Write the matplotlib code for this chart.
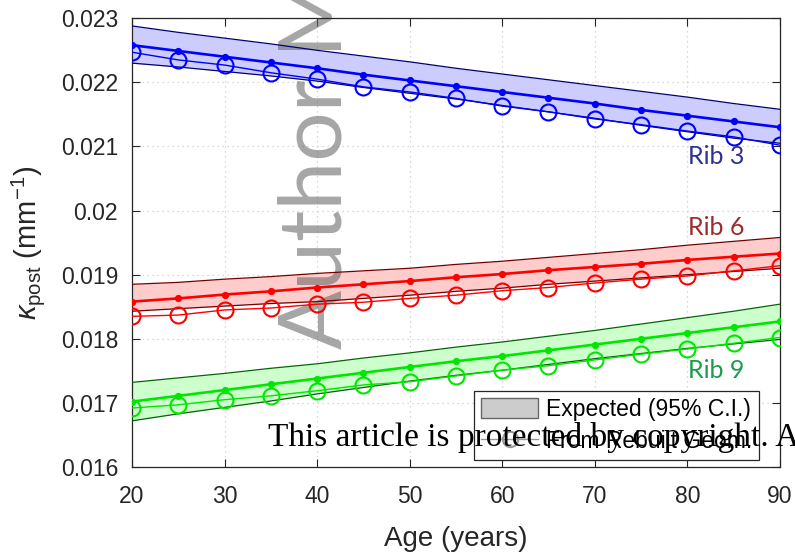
import matplotlib
matplotlib.use("Agg")
import matplotlib.pyplot as plt
from matplotlib.patches import Patch
from matplotlib.lines import Line2D

plt.rcParams['font.family'] = ['Liberation Sans', 'DejaVu Sans']
plt.rcParams['mathtext.fontset'] = 'custom'
plt.rcParams['mathtext.rm'] = 'Liberation Sans'
plt.rcParams['mathtext.it'] = 'Liberation Sans:italic'

# ---- data -------------------------------------------------------------
ages = [20, 25, 30, 35, 40, 45, 50, 55, 60, 65, 70, 75, 80, 85, 90]

rib3_mean = [0.02258, 0.02249, 0.02240, 0.02231, 0.02222, 0.02212, 0.02203, 0.02194,
             0.02185, 0.02176, 0.02167, 0.02157, 0.02148, 0.02139, 0.02130]
rib3_upper = [0.02288, 0.02278, 0.02269, 0.02260, 0.02250, 0.02241, 0.02232, 0.02222,
              0.02213, 0.02204, 0.02195, 0.02186, 0.02177, 0.02167, 0.02158]
rib3_lower = [0.02230, 0.02224, 0.02217, 0.02210, 0.02202, 0.02192, 0.02183, 0.02174,
              0.02164, 0.02154, 0.02144, 0.02133, 0.02123, 0.02113, 0.02105]
rib3_geom = [0.02247, 0.02235, 0.02227, 0.02215, 0.02205, 0.02193, 0.02185, 0.02175,
             0.02163, 0.02154, 0.02143, 0.02134, 0.02124, 0.02115, 0.02102]

rib6_mean = [0.01858, 0.01863, 0.01869, 0.01874, 0.01880, 0.01885, 0.01890, 0.01896,
             0.01901, 0.01907, 0.01912, 0.01917, 0.01923, 0.01928, 0.01933]
rib6_upper = [0.01885, 0.01888, 0.01893, 0.01897, 0.01902, 0.01906, 0.01910, 0.01916,
              0.01921, 0.01927, 0.01933, 0.01939, 0.01946, 0.01952, 0.01958]
rib6_lower = [0.01843, 0.01847, 0.01851, 0.01855, 0.01858, 0.01863, 0.01868, 0.01874,
              0.01879, 0.01885, 0.01890, 0.01895, 0.01900, 0.01905, 0.01910]
rib6_geom = [0.01835, 0.01837, 0.01845, 0.01848, 0.01854, 0.01857, 0.01863, 0.01868,
             0.01875, 0.01880, 0.01887, 0.01893, 0.01898, 0.01906, 0.01914]

rib9_mean = [0.01702, 0.01711, 0.01720, 0.01729, 0.01738, 0.01747, 0.01756, 0.01765,
             0.01773, 0.01782, 0.01791, 0.01800, 0.01809, 0.01818, 0.01827]
rib9_upper = [0.01732, 0.01739, 0.01746, 0.01754, 0.01761, 0.01770, 0.01778, 0.01787,
              0.01795, 0.01804, 0.01813, 0.01823, 0.01833, 0.01843, 0.01854]
rib9_lower = [0.01672, 0.01683, 0.01693, 0.01703, 0.01714, 0.01724, 0.01734, 0.01743,
              0.01751, 0.01760, 0.01769, 0.01777, 0.01785, 0.01792, 0.01799]
rib9_geom = [0.01692, 0.01697, 0.01705, 0.01711, 0.01719, 0.01728, 0.01733, 0.01742,
             0.01751, 0.01758, 0.01767, 0.01776, 0.01784, 0.01793, 0.01802]

rib_names = ["Rib 3", "Rib 6", "Rib 9"]
rib_label_y = [0.02084, 0.01973, 0.01750]

x_ticks = [20, 30, 40, 50, 60, 70, 80, 90]
y_ticks = [0.016, 0.017, 0.018, 0.019, 0.020, 0.021, 0.022, 0.023]
y_tick_labels = ["0.016", "0.017", "0.018", "0.019", "0.02", "0.021", "0.022", "0.023"]

# ---- styling ----------------------------------------------------------
line_colors = [(0, 0, 1), (1, 0, 0), (0, 0.9, 0)]
edge_colors = [(0, 0, 0.45), (0.45, 0, 0), (0, 0.4, 0)]
fill_colors = [(0.8, 0.8, 1), (1, 0.8, 0.8), (0.8, 1, 0.8)]
text_colors = ["#2e3192", "#9b2c2c", "#1a9c4a"]
axis_grey = (0.15, 0.15, 0.15)

fig = plt.figure(figsize=(7.95, 5.53), dpi=100)
ax = fig.add_axes([0.166, 0.1555, 0.815, 0.8115])

series = [
    (rib3_mean, rib3_upper, rib3_lower, rib3_geom),
    (rib6_mean, rib6_upper, rib6_lower, rib6_geom),
    (rib9_mean, rib9_upper, rib9_lower, rib9_geom),
]

for i, (mean, upper, lower, geom) in enumerate(series):
    ax.fill_between(ages, lower, upper, color=fill_colors[i], lw=0, zorder=1)
    ax.plot(ages, upper, color=edge_colors[i], lw=0.9, zorder=3)
    ax.plot(ages, lower, color=edge_colors[i], lw=0.9, zorder=3)
    ax.plot(ages, geom, color=line_colors[i], lw=1.0, marker='o', ms=11.5,
            mfc='none', mec=line_colors[i], mew=1.5, zorder=4)
    ax.plot(ages, mean, color=line_colors[i], lw=1.9, marker='o', ms=4.2,
            mfc=line_colors[i], mec=line_colors[i], zorder=5)
    ax.text(80.1, rib_label_y[i], rib_names[i], color=text_colors[i],
            fontsize=18, family=['Lato', 'DejaVu Sans'], ha='left', va='center',
            zorder=6)

ax.set_xlim(20, 90)
ax.set_ylim(0.016, 0.023)
ax.set_xticks(x_ticks)
ax.set_yticks(y_ticks)
ax.set_yticklabels(y_tick_labels)
ax.tick_params(direction='in', length=6, width=0.8, colors=axis_grey,
               labelsize=16.5, top=True, right=True)
ax.tick_params(axis='x', pad=13)
ax.tick_params(axis='y', pad=10)
for s in ax.spines.values():
    s.set_color(axis_grey)
    s.set_linewidth(0.9)
ax.grid(True, linestyle=(0, (1, 3)), color=(0.8, 0.8, 0.8), lw=0.9, zorder=0)
ax.set_axisbelow(True)

ax.set_xlabel("Age (years)", fontsize=20, color=axis_grey, labelpad=13)
ax.set_ylabel(r"$\kappa_{\mathrm{post}}$ (mm$^{-1}$)", fontsize=21,
              color=axis_grey, labelpad=10)

handles = [
    Patch(facecolor=(0.8, 0.8, 0.8), edgecolor=(0.4, 0.4, 0.4), lw=1.0),
    Line2D([], [], color=(0.6, 0.6, 0.6), lw=1.0, marker='o', ms=11,
           mfc='none', mec=(0.6, 0.6, 0.6), mew=1.5),
]
leg = ax.legend(handles, ["Expected (95% C.I.)", "From Rebuilt Geom."],
                loc='lower left', bbox_to_anchor=(0.528, 0.0156),
                borderaxespad=0, fontsize=16.5, fancybox=False, framealpha=1,
                edgecolor=axis_grey, handlelength=2.5, handleheight=1.0,
                labelspacing=0.4, borderpad=0.3, handletextpad=0.35)
leg.get_frame().set_linewidth(0.9)
leg.set_zorder(10)

# Watermark and copyright notice
ax.text(0.430, 0.369, "Author Manuscript", transform=fig.transFigure,
        rotation=90, ha='left', va='baseline', rotation_mode='anchor',
        fontsize=63, family=['Lato', 'DejaVu Sans'], color=(0.4, 0.4, 0.4),
        alpha=0.58, zorder=2, clip_on=False)
fig.text(0.337, 0.193, "This article is protected by copyright. All rights reserved",
         fontsize=24, family=['Liberation Serif', 'DejaVu Serif'],
         color='black', ha='left', va='baseline', zorder=20)

fig.savefig("out.png", dpi=100)
